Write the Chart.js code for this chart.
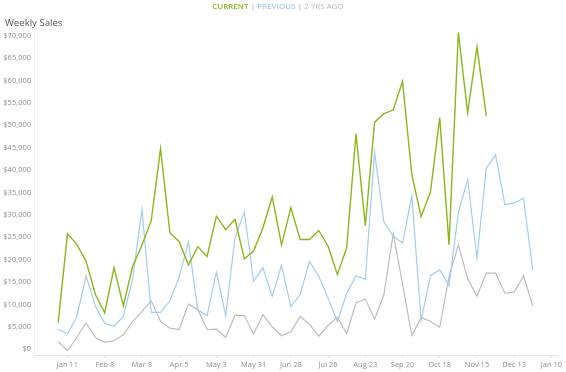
<!DOCTYPE html>
<html>
<head>
<meta charset="utf-8">
<script src="https://cdn.jsdelivr.net/npm/chart.js@4/dist/chart.umd.min.js"></script>
<style>
  html, body { margin: 0; padding: 0; background: #fff; }
  #wrap { position: relative; width: 566px; height: 372px; overflow: hidden; }
  #c { position: absolute; left: 0; top: 0; }
  #legend { position: absolute; left: 0; width: 556px; top: 0px; text-align: center;
    font-family: "Open Sans", sans-serif; font-size: 7.8px; font-weight: 600; letter-spacing: 0.1px; line-height: 12px; }
  #title { position: absolute; left: 5px; top: 15px; font-family: "Open Sans", sans-serif;
    font-size: 9.6px; color: #555; line-height: 16px; }
</style>
</head>
<body>
<div id="wrap">
  <canvas id="c" width="566" height="372"></canvas>
  <div id="legend"><span style="color:#8db51c">CURRENT</span> <span style="color:#b5b5b5">|</span> <span style="color:#a4cdea">PREVIOUS</span> <span style="color:#b5b5b5">|</span> <span style="color:#b9b9b9;font-weight:400">2 YRS AGO</span></div>
  <div id="title">Weekly Sales</div>
</div>
<script>
// Weekly data, first week starting Jan 4 (index 0)
const seriesNames = ["Current", "Previous", "2 Yrs Ago"];
const current = [6000, 25800, 23400, 19600, 12200, 8100, 18200, 9700, 18500, 23200,
  28700, 44800, 26000, 24000, 18800, 22900, 20700, 29700, 26700, 29000,
  20200, 21900, 27100, 34000, 23300, 31600, 24500, 24500, 26500, 23000,
  16700, 22600, 48100, 27600, 50700, 52600, 53400, 59800, 39000, 29600,
  35100, 51700, 23300, 70700, 52800, 67500, 52100];
const previous = [4500, 3400, 7300, 16400, 9600, 5800, 5100, 7300, 15700, 31200,
  8200, 8200, 10800, 16100, 24000, 8800, 7500, 17200, 7500, 24900,
  30600, 15200, 18200, 11800, 18700, 9500, 12200, 19600, 16300, 11400,
  6200, 12500, 16400, 15600, 44000, 28400, 25200, 23700, 34300, 6400,
  16400, 17700, 14200, 30500, 37900, 20300, 40400, 43400, 32300, 32600,
  33700, 17700];
const twoYrsAgo = [1700, -300, 2600, 5900, 2600, 1500, 1900, 3200, 6200, 8400,
  10800, 6200, 4700, 4400, 10100, 8800, 4400, 4500, 2600, 7600,
  7500, 3400, 7700, 5000, 3000, 3900, 7300, 5600, 2900, 5300,
  7100, 3500, 10300, 11200, 6700, 12200, 25800, 14600, 3000, 7100,
  6200, 4900, 16200, 23300, 15700, 11800, 17000, 17000, 12500, 12700,
  16400, 9600];
// x tick labels: every 4th week starting at week index 1 (Jan 11)
const tickLabels = ["Jan 11","Feb 8","Mar 8","Apr 5","May 3","May 31","Jun 28",
  "Jul 26","Aug 23","Sep 20","Oct 18","Nov 15","Dec 13","Jan 10"];
const tickWeekIndex = tickLabels.map((_, k) => 1 + 4 * k);
const yTicks = [0,5000,10000,15000,20000,25000,30000,35000,40000,45000,50000,55000,60000,65000,70000];

const toPts = arr => arr.map((v, i) => ({ x: i, y: v }));
const fontFam = '"Open Sans", sans-serif';

new Chart(document.getElementById('c'), {
  type: 'line',
  data: {
    datasets: [
      { label: seriesNames[0], data: toPts(current), borderColor: '#8db51c', borderWidth: 1.4, pointRadius: 0, tension: 0, order: 1 },
      { label: seriesNames[1], data: toPts(previous), borderColor: '#a4cdea', borderWidth: 1.2, pointRadius: 0, tension: 0, order: 2 },
      { label: seriesNames[2], data: toPts(twoYrsAgo), borderColor: '#bdbdbd', borderWidth: 1.2, pointRadius: 0, tension: 0, order: 3 }
    ]
  },
  options: {
    responsive: false,
    animation: false,
    layout: { padding: { top: 29, right: 9, left: 0, bottom: 0 } },
    plugins: { legend: { display: false }, tooltip: { enabled: false }, title: { display: false } },
    scales: {
      x: {
        type: 'linear',
        min: -2.6,
        max: 53.6,
        afterBuildTicks: s => { s.ticks = tickWeekIndex.map(v => ({ value: v })); },
        afterFit: s => { s.height = 17; },
        ticks: {
          autoSkip: false, maxRotation: 0, padding: 2,
          color: '#8f8f8f', font: { family: fontFam, size: 7.5 },
          callback: (v) => { const k = tickWeekIndex.indexOf(v); return k >= 0 ? tickLabels[k] : ''; }
        },
        grid: { display: true, drawOnChartArea: false, drawTicks: true, tickLength: 3, color: '#e6e6e6' },
        border: { display: true, color: '#e2e2e2', dash: [1, 2] }
      },
      y: {
        min: -1300,
        max: 71500,
        afterBuildTicks: s => { s.ticks = yTicks.map(v => ({ value: v })); },
        afterFit: s => { s.width = 34; },
        ticks: {
          padding: 3, color: '#8f8f8f', font: { family: fontFam, size: 7.5 },
          callback: v => '$' + v.toLocaleString('en-US')
        },
        grid: { display: false, drawTicks: false },
        border: { display: true, color: '#f2f2f2' }
      }
    }
  }
});
</script>
</body>
</html>
